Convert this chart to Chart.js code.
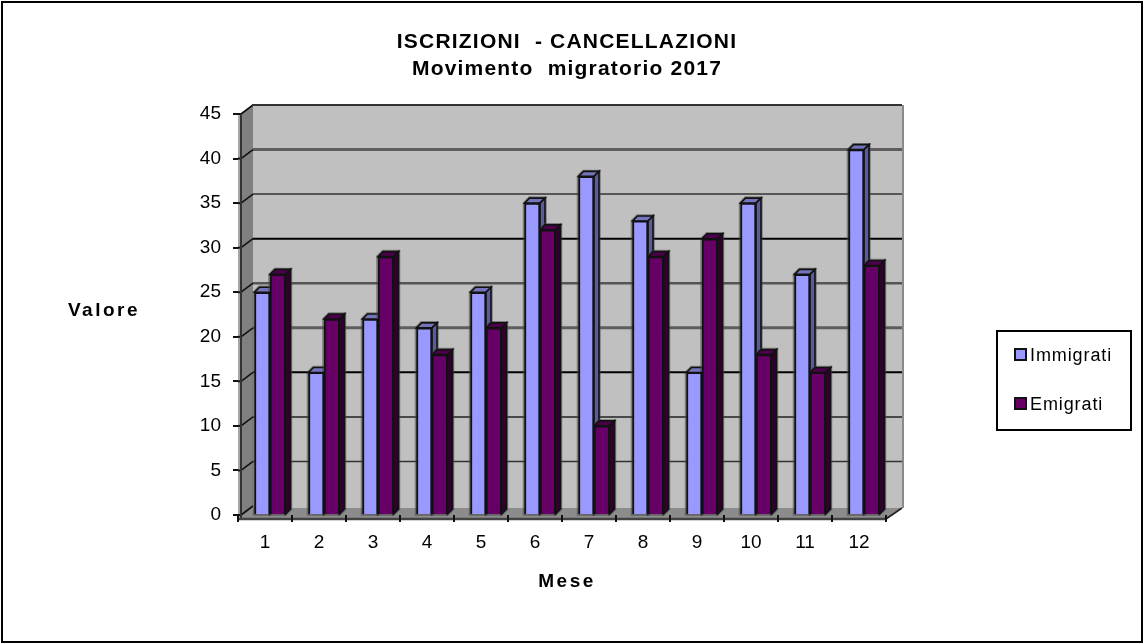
<!DOCTYPE html>
<html><head><meta charset="utf-8">
<style>html,body{margin:0;padding:0;background:#fff}canvas{display:block}</style>
<script src="https://cdn.jsdelivr.net/npm/chart.js@4"></script>
</head><body><canvas id="c" width="1143" height="643"></canvas>
<script>
const months = ['1','2','3','4','5','6','7','8','9','10','11','12'];
const immigrati = [25,16,22,21,25,35,38,33,16,35,27,41];
const emigrati = [27,22,29,18,21,32,10,29,31,18,16,28];
const titleLines = ['ISCRIZIONI  - CANCELLAZIONI','Movimento  migratorio 2017'];
const FONT = '"Liberation Sans", Arial, sans-serif';
const gridStyle = {5:['#333',1.5],10:['#222',1.5],15:['#000',2],20:['#5e5e5e',3],25:['#555',2.5],30:['#000',2],35:['#333',1.5],40:['#5e5e5e',3]};
const BAR_SHIFT = 5, DEPTH = 5;

function poly(ctx, pts, fill, stroke, lw){
  ctx.beginPath();
  pts.forEach((p,i)=> i?ctx.lineTo(p[0],p[1]):ctx.moveTo(p[0],p[1]));
  ctx.closePath();
  if(fill){ctx.fillStyle=fill;ctx.fill();}
  if(stroke){ctx.strokeStyle=stroke;ctx.lineWidth=lw||1;ctx.stroke();}
}
function line(ctx,x1,y1,x2,y2,c,w){
  ctx.strokeStyle=c;ctx.lineWidth=w;ctx.beginPath();ctx.moveTo(x1,y1);ctx.lineTo(x2,y2);ctx.stroke();
}
function faces(chart, idx, sideC, topC){
  const ctx=chart.ctx;
  chart.getDatasetMeta(idx).data.forEach(b=>{
    const w=b.width, l=b.x-w/2+BAR_SHIFT, r=b.x+w/2+BAR_SHIFT, t=b.y, bot=b.base;
    // soft halo left by the reference's rescaling
    poly(ctx,[[l,t],[l+DEPTH,t-DEPTH],[r+DEPTH,t-DEPTH],[r+DEPTH,bot-DEPTH],[r,bot],[l,bot]],null,'rgba(70,70,70,0.55)',3.5);
    poly(ctx,[[l,t],[r,t],[r+DEPTH,t-DEPTH],[l+DEPTH,t-DEPTH]],topC,'#111',1.6);
    poly(ctx,[[r,t],[r+DEPTH,t-DEPTH],[r+DEPTH,bot-DEPTH],[r,bot]],sideC,'#111',1.6);
  });
}
const scene = {
  id:'scene',
  afterLayout(chart){
    const tb=chart.titleBlock;
    if(tb){
      tb.left=300;tb.right=834;
      if(!tb._spaced){
        const d=tb.draw;
        tb.draw=function(){chart.ctx.save();chart.ctx.letterSpacing='1.2px';d.apply(this,arguments);chart.ctx.restore();};
        tb._spaced=true;
      }
    }
  },
  beforeDraw(chart){
    const ctx=chart.ctx, ya=chart.scales.y, xa=chart.scales.x;
    const L=xa.left, R=xa.right, B=ya.bottom;
    const fx=L+3, bx=253, brx=902, dy=9;
    ctx.save();
    ctx.fillStyle='#fff';ctx.fillRect(0,0,chart.width,chart.height);
    ctx.strokeStyle='#000';ctx.lineWidth=2;ctx.strokeRect(2,2,chart.width-3,chart.height-3);
    // back wall
    const topF=ya.getPixelForValue(45), botB=508;
    poly(ctx,[[bx,topF-dy],[brx,topF-dy],[brx,botB],[bx,botB]],'#c0c0c0');
    // left wall
    poly(ctx,[[fx,topF],[bx,topF-dy],[bx,botB],[fx,B+4]],'#808080');
    line(ctx,L+1,topF,L+1,B+4,'#a6a6a6',2);
    // floor
    poly(ctx,[[L,B+4],[R,B+4],[brx,botB],[bx,botB]],'#8c8c8c');
    // grid
    ya.ticks.forEach(t=>{
      const y=ya.getPixelForValue(t.value);
      if(t.value>0&&t.value<45){
        const s=gridStyle[t.value]||['#333',1.5];
        line(ctx,bx,y-dy,brx,y-dy,s[0],s[1]);
      }
      line(ctx,L,y,fx,y,'#111',2);
      line(ctx,fx,y,bx,y-dy,'#111',1.6);
    });
    line(ctx,bx-1,topF-dy,brx,topF-dy,'#333',2);
    line(ctx,brx+1,topF-dy,brx+1,botB,'#8a8a8a',2);
    line(ctx,fx,topF,fx,B+4,'#333',2);
    line(ctx,L,B+4,R,B+4,'#444',2.5);
    line(ctx,R,B+4,brx,botB,'#222',1.6);
    ctx.restore();
  },
  beforeDatasetsDraw(chart){
    const ctx=chart.ctx;
    ctx.save();
    faces(chart,0,'#5c5c9c','#7474bc');
    faces(chart,1,'#30002f','#4c004c');
    ctx.restore();
    ctx.save();
    ctx.translate(BAR_SHIFT,0);
  },
  afterDatasetsDraw(chart){
    chart.ctx.restore();
  },
  afterDraw(chart){
    const ctx=chart.ctx;
    ctx.save();
    ctx.fillStyle='#000';
    ctx.textBaseline='middle';ctx.textAlign='center';
    ctx.font='bold 19px '+FONT;
    ctx.letterSpacing='2.5px';
    ctx.fillText('Valore',104,311);
    ctx.fillText('Mese',567,582);
    // legend
    ctx.strokeStyle='#000';ctx.lineWidth=2;ctx.strokeRect(997,331,134,99);
    ctx.textAlign='left';
    ctx.font='18px '+FONT;
    ctx.letterSpacing='0.9px';
    chart.data.datasets.forEach((d,i)=>{
      const y=355+i*49;
      ctx.fillStyle=d.backgroundColor;
      ctx.strokeStyle='#111';ctx.lineWidth=2;
      ctx.fillRect(1015,y-6,11,11);ctx.strokeRect(1015,y-6,11,11);
      ctx.fillStyle='#000';
      ctx.fillText(d.label,1030,y+1);
    });
    ctx.restore();
  }
};
new Chart(document.getElementById('c'),{
  type:'bar',
  data:{labels:months,datasets:[
    {label:'Immigrati',data:immigrati,backgroundColor:'#9999ff',borderColor:'#111',borderWidth:2,barThickness:15.5},
    {label:'Emigrati',data:emigrati,backgroundColor:'#660066',borderColor:'#111',borderWidth:2,barThickness:15.5}
  ]},
  plugins:[scene],
  options:{
    responsive:false,animation:false,
    layout:{padding:{left:6,right:257,top:0,bottom:0}},
    plugins:{
      legend:{display:false},tooltip:{enabled:false},
      title:{display:true,text:titleLines,color:'#000',align:'center',
        font:{family:FONT,size:21,weight:'bold',lineHeight:1.286},
        padding:{top:29,bottom:31}}
    },
    scales:{
      x:{
        grid:{drawOnChartArea:false,color:'#111',lineWidth:2,tickLength:7,tickColor:'#111'},
        border:{display:false},
        ticks:{color:'#000',font:{family:FONT,size:19},padding:9,maxRotation:0},
        afterFit(s){s.height=643-515;}
      },
      y:{
        min:0,max:45,
        grid:{drawOnChartArea:false,tickLength:5,tickColor:'#111',lineWidth:2},
        border:{display:false},
        ticks:{stepSize:5,color:'#000',font:{family:FONT,size:19},padding:12},
        afterFit(s){s.width=238-6;}
      }
    }
  }
});
</script></body></html>
